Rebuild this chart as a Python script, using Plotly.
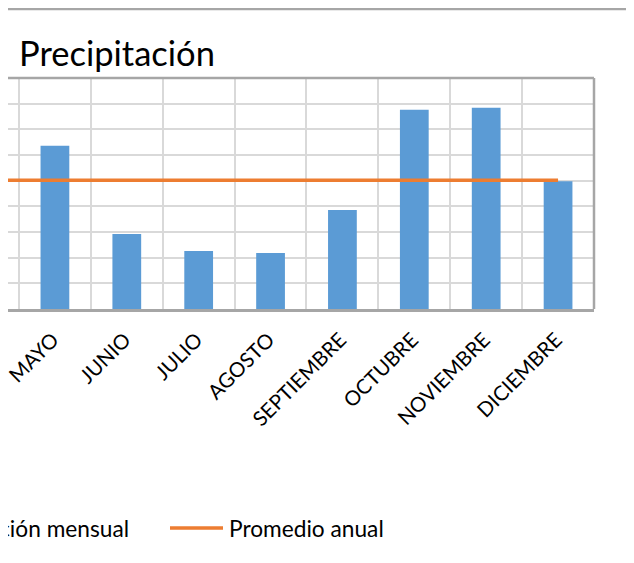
import plotly.graph_objects as go

# ---- data ----
meses = ["ENERO", "FEBRERO", "MARZO", "ABRIL", "MAYO", "JUNIO", "JULIO", "AGOSTO",
         "SEPTIEMBRE", "OCTUBRE", "NOVIEMBRE", "DICIEMBRE"]
# Jan-Apr are cropped out of the reference picture (not visible)
precipitacion_mensual = [None, None, None, None, 318, 146, 113, 109, 193, 388, 392, 249]
promedio_anual = [251, 251, 251, 251, 251, 251, 251, 251, 251, 251, 251, 251]

W, H = 634, 563
OFF = 8  # page body margin
L, R, T, B = 0, 586, 70, 301  # plot area in figure pixels


def px(x):
    return (x - OFF - L) / (R - L)


def py(y):
    return (B - (y - OFF)) / (B - T)


FONT = "Lato"
GRAY = "#a6a6a6"

fig = go.Figure()
fig.add_trace(go.Bar(x=meses, y=precipitacion_mensual, name="Precipitación mensual",
                     marker=dict(color="#5B9BD5", line=dict(width=0))))
fig.add_trace(go.Scatter(x=meses, y=promedio_anual, name="Promedio anual", mode="lines",
                         line=dict(color="#ED7D31", width=3.5)))

fig.update_layout(
    width=W, height=H,
    margin=dict(l=L, r=W - R, t=T, b=H - B, autoexpand=False),
    paper_bgcolor="white", plot_bgcolor="white",
    showlegend=False,
    bargap=0.6,
    title=dict(text="Precipitación", x=px(19), xref="paper", xanchor="left",
               y=1 - (54 - OFF) / H, yref="container", yanchor="middle",
               font=dict(family=FONT, size=34.5, color="#000000")),
    font=dict(family=FONT, color="#000000"),
    xaxis=dict(range=[3.5 - 11 / 72, 11.5], tickson="boundaries", showgrid=True,
               gridcolor="#d9d9d9", gridwidth=1.5, ticks="", tickangle=-45,
               tickfont=dict(family=FONT, size=20.5, color="#000000"),
               ticklabelstandoff=8, ticklabelshift=-2,
               showline=True, linecolor=GRAY, linewidth=2.5, zeroline=False),
    yaxis=dict(range=[0, 450], dtick=50, showgrid=True, gridcolor="#d9d9d9", gridwidth=1.5,
               showticklabels=False, ticks="", zeroline=False, showline=False),
    shapes=[
        dict(type="line", xref="paper", yref="paper", x0=px(8), x1=px(650), y0=py(9), y1=py(9),
             line=dict(color=GRAY, width=2.5)),
        dict(type="line", xref="paper", yref="paper", x0=0, x1=1, y0=1, y1=1,
             line=dict(color=GRAY, width=2.5)),
        dict(type="line", xref="paper", yref="paper", x0=1, x1=1, y0=0, y1=1,
             line=dict(color=GRAY, width=2.5)),
        dict(type="line", xref="paper", yref="paper", x0=px(170), x1=px(223), y0=py(528), y1=py(528),
             line=dict(color="#ED7D31", width=3.5)),
    ],
    annotations=[
        dict(text="Precipitación mensual", xref="paper", yref="paper", x=px(131), y=py(528),
             xanchor="right", yanchor="middle", showarrow=False,
             font=dict(family=FONT, size=22.7, color="#000000")),
        dict(text="Promedio anual", xref="paper", yref="paper", x=px(227), y=py(528),
             xanchor="left", yanchor="middle", showarrow=False,
             font=dict(family=FONT, size=22.7, color="#000000")),
    ],
)

fig.write_html("out.html")
